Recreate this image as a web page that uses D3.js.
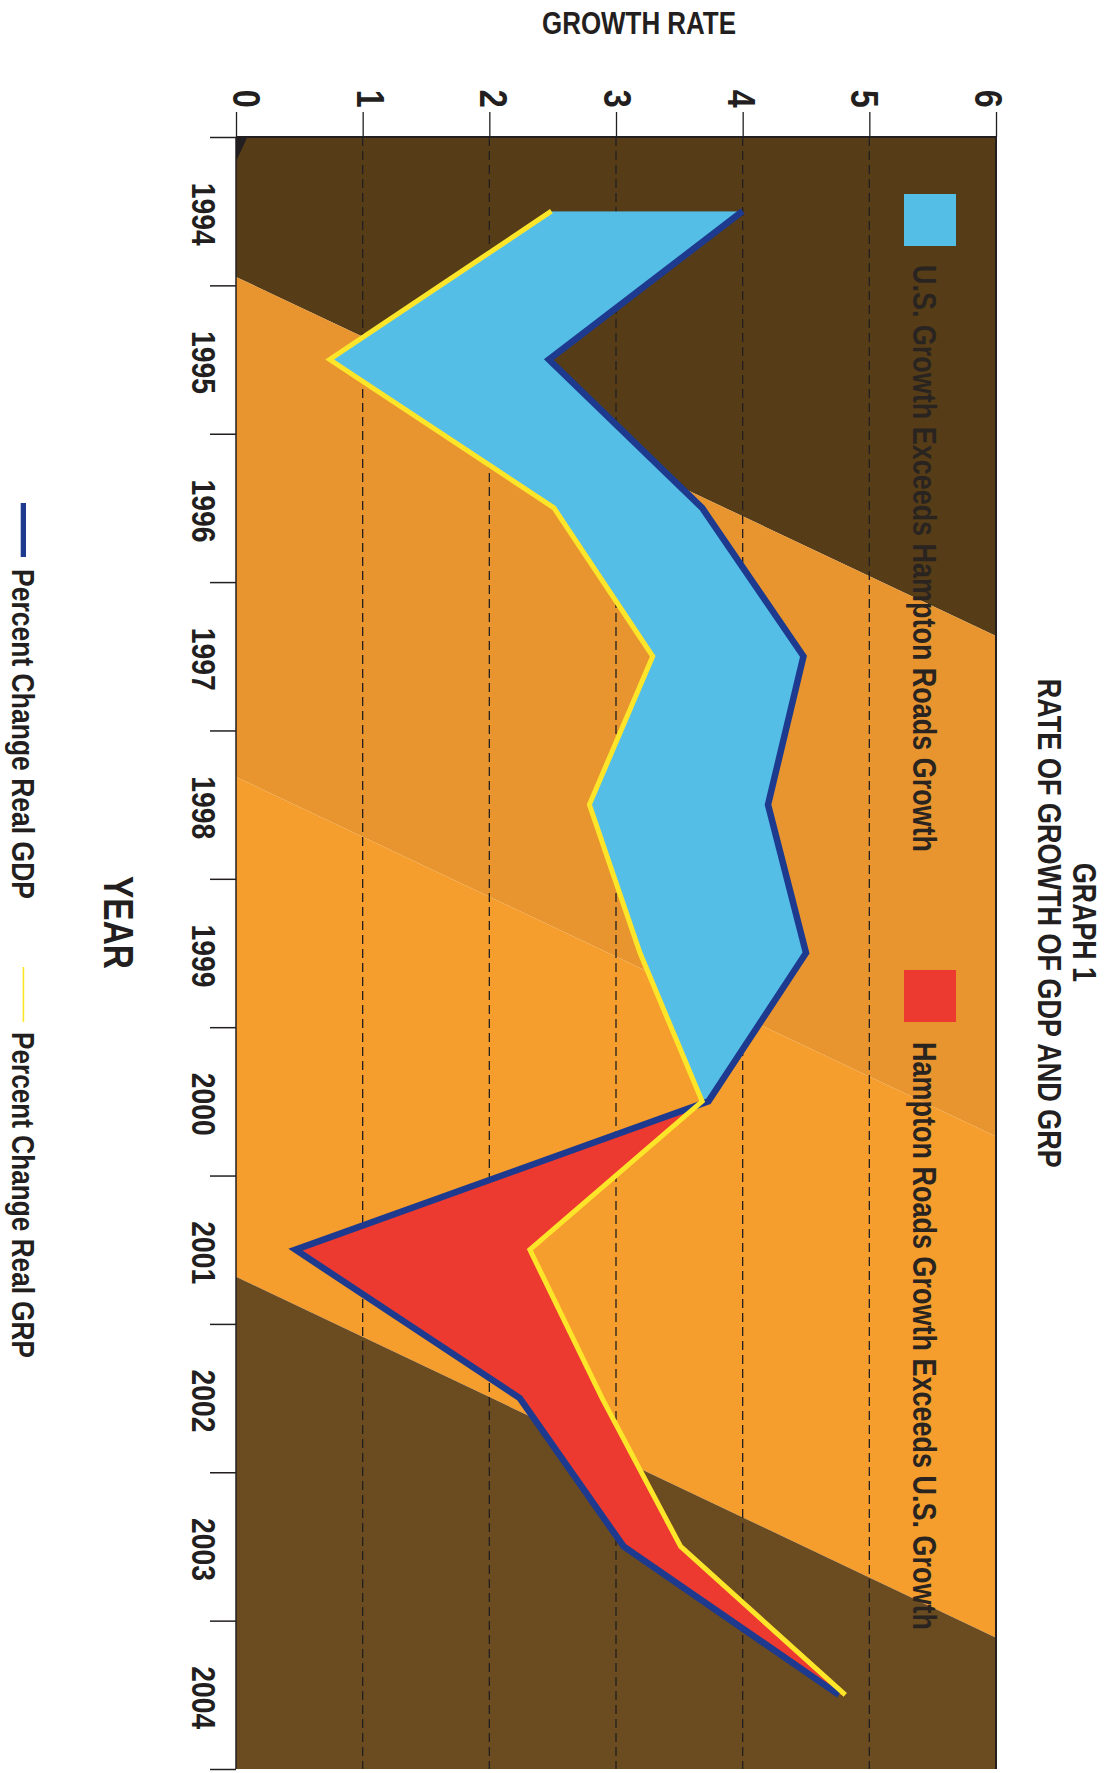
<!DOCTYPE html>
<html><head><meta charset="utf-8">
<script src="https://cdn.jsdelivr.net/npm/d3@7"></script>
<style>body{margin:0;background:#fff} svg{display:block}</style>
</head><body>
<svg id="chart" width="1111" height="1773"></svg>
<script>
// ---- data ----
const years = [1994, 1995, 1996, 1997, 1998, 1999, 2000, 2001, 2002, 2003, 2004];
const gdpGrowth = [4.00, 2.47, 3.68, 4.48, 4.20, 4.50, 3.73, 0.47, 2.24, 3.06, 4.76];
const grpGrowth = [2.49, 0.74, 2.51, 3.29, 2.79, 3.19, 3.68, 2.32, 2.89, 3.51, 4.81];
const rateTicks = [0, 1, 2, 3, 4, 5, 6];
const gridValues = [1, 2, 3, 4, 5];
// background diagonal band boundaries, in year-index units at rate 0 and rate 6
const bandEdgesLeft = [0.943, 4.313, 7.682];
const bandEdgesRight = [3.363, 6.736, 10.115];
const bandColors = ["#563d17", "#e8952f", "#f59e2d", "#6b4b20"];
const titleLines = ["GRAPH 1", "RATE OF GROWTH OF GDP AND GRP"];
const legendAreas = ["U.S. Growth Exceeds Hampton Roads Growth", "Hampton Roads Growth Exceeds U.S. Growth"];
const legendLines = ["Percent Change Real GDP", "Percent Change Real GRP"];

// ---- layout ----
const L = 236, R = 996, T = 137, B = 1769;
const ink = "#231f20";
const font = "'Liberation Sans', Arial, sans-serif";

const svg = d3.select("#chart");
const x = d3.scaleLinear().domain([0, 6]).range([L, R]);
const yIdx = d3.scaleLinear().domain([0, years.length]).range([T, B]);
const yBand = d3.scaleBand().domain(years).range([T, B]).padding(0);
const yC = yr => yBand(yr) + yBand.bandwidth() / 2;
const labelX = d3.scaleLinear().domain([0, 6]).range([246, 988]);

const data = years.map((yr, i) => ({ year: yr, gdp: gdpGrowth[i], grp: grpGrowth[i] }));

function label(sel, opts) {
  const t = sel.append("text")
    .attr("transform", opts.transform)
    .attr("text-anchor", opts.anchor || "middle")
    .attr("font-family", font).attr("font-weight", opts.weight || "bold")
    .attr("font-size", opts.size).attr("fill", opts.fill || ink)
    .text(opts.text);
  if (opts.len) t.attr("textLength", opts.len).attr("lengthAdjust", "spacingAndGlyphs");
  return t;
}

// ---- background bands ----
const edgesL = [0, ...bandEdgesLeft, years.length];
const edgesR = [0, ...bandEdgesRight, years.length];
const bg = svg.append("g");
bandColors.forEach((c, i) => {
  const pts = [[x(0), yIdx(edgesL[i])], [x(6), yIdx(edgesR[i])], [x(6), yIdx(edgesR[i + 1])], [x(0), yIdx(edgesL[i + 1])]];
  bg.append("path").attr("d", d3.line()(pts) + "Z").attr("fill", c);
});
bg.append("path")
  .attr("d", d3.line()([[x(0), yIdx(0)], [x(0.09), yIdx(0)], [x(0), yIdx(0.165)]]) + "Z")
  .attr("fill", ink);

// ---- grid ----
svg.append("g").selectAll("line").data(gridValues).join("line")
  .attr("x1", d => x(d)).attr("x2", d => x(d))
  .attr("y1", T).attr("y2", B)
  .attr("stroke", ink).attr("stroke-width", 1.3).attr("stroke-dasharray", "9,5");

// ---- areas between lines ----
const defs = svg.append("defs");
defs.append("clipPath").attr("id", "leftOfGdp").append("path")
  .attr("d", d3.area().y(d => yC(d.year)).x0(x(0) - 5).x1(d => x(d.gdp))(data));
defs.append("clipPath").attr("id", "leftOfGrp").append("path")
  .attr("d", d3.area().y(d => yC(d.year)).x0(x(0) - 5).x1(d => x(d.grp))(data));

svg.append("path")
  .attr("d", d3.area().y(d => yC(d.year)).x0(d => x(d.grp)).x1(x(6) + 5)(data))
  .attr("clip-path", "url(#leftOfGdp)").attr("fill", "#55bee6");
svg.append("path")
  .attr("d", d3.area().y(d => yC(d.year)).x0(d => x(d.gdp)).x1(x(6) + 5)(data))
  .attr("clip-path", "url(#leftOfGrp)").attr("fill", "#ec3a31");

// ---- lines ----
svg.append("path")
  .attr("d", d3.line().x(d => x(d.gdp)).y(d => yC(d.year))(data))
  .attr("fill", "none").attr("stroke", "#1e3a8e").attr("stroke-width", 6.5)
  .attr("stroke-linejoin", "miter").attr("stroke-linecap", "butt");
svg.append("path")
  .attr("d", d3.line().x(d => x(d.grp)).y(d => yC(d.year))(data))
  .attr("fill", "none").attr("stroke", "#fde52a").attr("stroke-width", 5)
  .attr("stroke-linejoin", "miter").attr("stroke-linecap", "butt");

// ---- frame & axes ----
svg.append("line").attr("x1", L).attr("x2", R).attr("y1", T).attr("y2", T).attr("stroke", ink).attr("stroke-width", 2);
svg.append("line").attr("x1", L).attr("x2", L).attr("y1", T).attr("y2", B).attr("stroke", ink).attr("stroke-width", 1.5);
svg.append("line").attr("x1", R).attr("x2", R).attr("y1", T).attr("y2", B).attr("stroke", ink).attr("stroke-width", 2);

const topAxis = svg.append("g").attr("transform", `translate(0,${T})`)
  .call(d3.axisTop(x).tickValues(rateTicks).tickSize(25).tickFormat(""));
topAxis.select(".domain").remove();
topAxis.selectAll(".tick line").attr("stroke", ink).attr("stroke-width", 1.3);

const leftAxis = svg.append("g").attr("transform", `translate(${L},0)`)
  .call(d3.axisLeft(yIdx).tickValues(d3.range(years.length + 1)).tickSize(26).tickFormat(""));
leftAxis.select(".domain").remove();
leftAxis.selectAll(".tick line").attr("stroke", ink).attr("stroke-width", 1.5);

// rate labels (rotated)
const rateG = svg.append("g");
rateTicks.forEach(d => label(rateG, { transform: `translate(${labelX(d) - 13},98.7) rotate(90)`, size: 38, len: 18, text: d }));

// year labels (rotated)
const yearG = svg.append("g");
years.forEach(d => label(yearG, { transform: `translate(192,${yC(d) + 3}) rotate(90)`, size: 34, len: 63, text: d }));

// axis titles
label(svg, { transform: "translate(639,34.3)", size: 31, len: 194, text: "GROWTH RATE" });
label(svg, { transform: "translate(104,922.5) rotate(90)", size: 42, len: 93, text: "YEAR" });

// chart title (right side, rotated)
label(svg, { transform: "translate(1073,922.5) rotate(90)", size: 34, len: 119, text: titleLines[0] });
label(svg, { transform: "translate(1038,923.3) rotate(90)", size: 33, len: 489, text: titleLines[1] });

// inner legend
const inLeg = [{ y: 194, fill: "#55bee6", ty: 265, len: 587 }, { y: 970, fill: "#ec3a31", ty: 1042, len: 588 }];
inLeg.forEach((d, i) => {
  svg.append("rect").attr("x", 904).attr("y", d.y).attr("width", 52).attr("height", 52).attr("fill", d.fill);
  label(svg, { transform: `translate(913,${d.ty}) rotate(90)`, anchor: "start", size: 33, len: d.len,
    fill: "#2a2421", text: legendAreas[i] });
});

// bottom-left line legend
svg.append("rect").attr("x", 20.7).attr("y", 503).attr("width", 5.3).attr("height", 54).attr("fill", "#1e3a8e");
label(svg, { transform: "translate(11.7,569) rotate(90)", anchor: "start", size: 31, len: 330, text: legendLines[0] });
svg.append("rect").attr("x", 22.6).attr("y", 967).attr("width", 1.6).attr("height", 55).attr("fill", "#fde52a");
label(svg, { transform: "translate(11.7,1032) rotate(90)", anchor: "start", size: 31, len: 326, text: legendLines[1] });
</script>
</body></html>
